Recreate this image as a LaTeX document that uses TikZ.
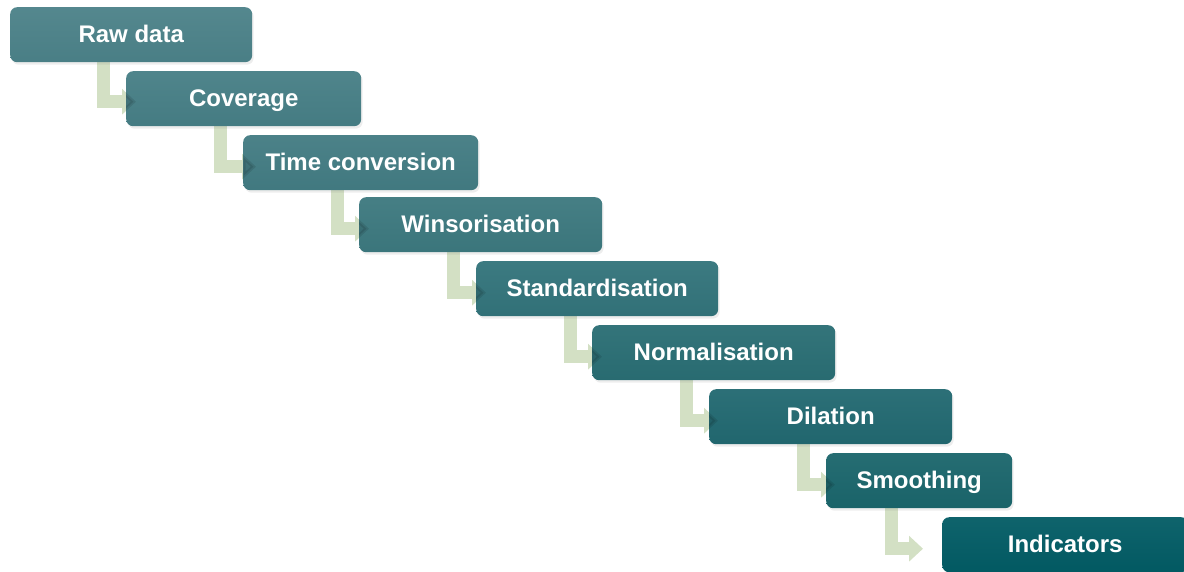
\documentclass[tikz,border=0pt]{standalone}
\usepackage{fontspec}
\setmainfont{Liberation Sans}
\usetikzlibrary{arrows.meta,shadows,backgrounds}
\definecolor{flowgreen}{HTML}{D3E0C4}
\definecolor{cA}{HTML}{4B8188}
\definecolor{cB}{HTML}{467E85}
\definecolor{cC}{HTML}{427B82}
\definecolor{cD}{HTML}{3C787E}
\definecolor{cE}{HTML}{32737A}
\definecolor{cF}{HTML}{296D73}
\definecolor{cG}{HTML}{216870}
\definecolor{cH}{HTML}{1A656B}
\definecolor{cI}{HTML}{025B64}
\tikzset{
  stepbox/.style={rectangle, rounded corners=7pt, minimum height=55pt,
    minimum width=243pt, inner sep=0pt, anchor=north west, text=white,
    text height=19pt, text depth=4pt,
    font=\fontsize{24}{28}\selectfont\bfseries,
    top color=#1!95!white, bottom color=#1!98!black,
    drop shadow={opacity=0.14, shadow xshift=1.5pt, shadow yshift=-2.5pt}},
  flowtip/.style={-{Triangle[width=25pt,length=14pt]}},
  flow/.style={draw=flowgreen, line width=13pt, line join=miter, flowtip},
  flowdark/.style={draw=black, opacity=0.10, line width=13pt, line join=miter, flowtip},
}
\begin{document}
\begin{tikzpicture}[x=1pt,y=1pt]
\useasboundingbox (0,0) rectangle (1184,-571);
\path (10,-7)    node[stepbox=cA, minimum width=242pt] (n1) {Raw data};
\path (126,-71)  node[stepbox=cB, minimum width=235pt] (n2) {Coverage};
\path (243,-135) node[stepbox=cC, minimum width=235pt] (n3) {Time conversion};
\path (359,-197) node[stepbox=cD] (n4) {Winsorisation};
\path (476,-261) node[stepbox=cE, minimum width=242pt] (n5) {Standardisation};
\path (592,-325) node[stepbox=cF] (n6) {Normalisation};
\path (709,-389) node[stepbox=cG] (n7) {Dilation};
\path (826,-453) node[stepbox=cH, minimum width=186pt] (n8) {Smoothing};
\path (942,-517) node[stepbox=cI, minimum width=246pt] (n9) {Indicators};
\begin{scope}[on background layer]
  \draw[flow] ([xshift=93pt]n1.south west) |- ([xshift=10pt,yshift=-3pt]n2.west);
  \draw[flow] ([xshift=94pt]n2.south west) |- ([xshift=13pt,yshift=-4pt]n3.west);
  \draw[flow] ([xshift=94pt]n3.south west) |- ([xshift=10pt,yshift=-4pt]n4.west);
  \draw[flow] ([xshift=94pt]n4.south west) |- ([xshift=10pt,yshift=-4pt]n5.west);
  \draw[flow] ([xshift=94pt]n5.south west) |- ([xshift=10pt,yshift=-4pt]n6.west);
  \draw[flow] ([xshift=94pt]n6.south west) |- ([xshift=9pt,yshift=-4pt]n7.west);
  \draw[flow] ([xshift=94pt]n7.south west) |- ([xshift=9pt,yshift=-4pt]n8.west);
  \draw[flow] ([xshift=65pt]n8.south west) |- ([xshift=-19pt,yshift=-4pt]n9.west);
\end{scope}
% darker show-through of the arrow tips inside the boxes
\begin{scope}
  \clip[rounded corners=7pt] (n2.south west) rectangle (n2.north east);
  \draw[flowdark] ([xshift=93pt]n1.south west) |- ([xshift=10pt,yshift=-3pt]n2.west);
\end{scope}
\begin{scope}
  \clip[rounded corners=7pt] (n3.south west) rectangle (n3.north east);
  \draw[flowdark] ([xshift=94pt]n2.south west) |- ([xshift=13pt,yshift=-4pt]n3.west);
\end{scope}
\begin{scope}
  \clip[rounded corners=7pt] (n4.south west) rectangle (n4.north east);
  \draw[flowdark] ([xshift=94pt]n3.south west) |- ([xshift=10pt,yshift=-4pt]n4.west);
\end{scope}
\begin{scope}
  \clip[rounded corners=7pt] (n5.south west) rectangle (n5.north east);
  \draw[flowdark] ([xshift=94pt]n4.south west) |- ([xshift=10pt,yshift=-4pt]n5.west);
\end{scope}
\begin{scope}
  \clip[rounded corners=7pt] (n6.south west) rectangle (n6.north east);
  \draw[flowdark] ([xshift=94pt]n5.south west) |- ([xshift=10pt,yshift=-4pt]n6.west);
\end{scope}
\begin{scope}
  \clip[rounded corners=7pt] (n7.south west) rectangle (n7.north east);
  \draw[flowdark] ([xshift=94pt]n6.south west) |- ([xshift=9pt,yshift=-4pt]n7.west);
\end{scope}
\begin{scope}
  \clip[rounded corners=7pt] (n8.south west) rectangle (n8.north east);
  \draw[flowdark] ([xshift=94pt]n7.south west) |- ([xshift=9pt,yshift=-4pt]n8.west);
\end{scope}
\end{tikzpicture}
\end{document}
